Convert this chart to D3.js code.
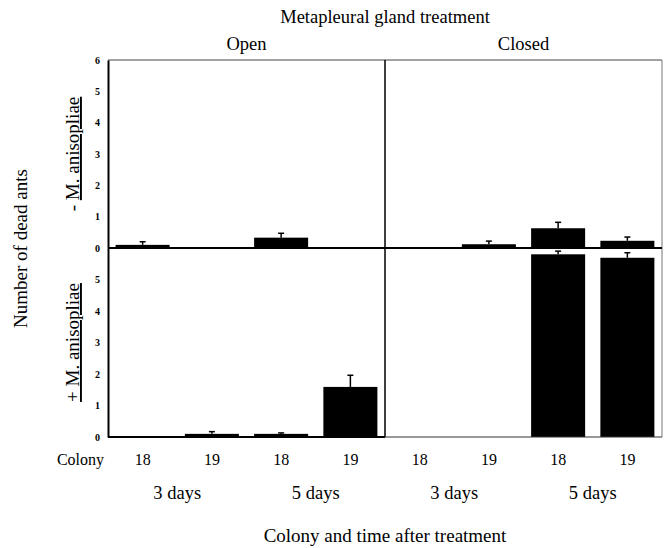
<!DOCTYPE html>
<html>
<head>
<meta charset="utf-8">
<script src="https://cdn.jsdelivr.net/npm/d3@7"></script>
<style>
  html, body { margin: 0; padding: 0; background: #fff; }
  svg { display: block; font-family: "Liberation Serif", "Times New Roman", serif; }
  svg text { font-family: "Liberation Serif", "Times New Roman", serif !important; fill: #000; }
</style>
</head>
<body>
<svg id="chart" width="664" height="548"></svg>
<script>
// ---- data ----
const colonies = ["18", "19", "18", "19"];
const dayLabels = ["3 days", "5 days"];
const treatments = ["Open", "Closed"];
const fungusRows = ["-", "+"];
const yTicksTop = [0, 1, 2, 3, 4, 5, 6];
const yTicksBottom = [0, 1, 2, 3, 4, 5];

// means (slots: colony 18 3d, colony 19 3d, colony 18 5d, colony 19 5d)
const openMinus = [0.10, 0, 0.33, 0];
const openMinusErr = [0.10, 0, 0.14, 0];
const closedMinus = [0, 0.12, 0.63, 0.23];
const closedMinusErr = [0, 0.10, 0.19, 0.12];
const openPlus = [0, 0.10, 0.10, 1.59];
const openPlusErr = [0, 0.07, 0.03, 0.37];
const closedPlus = [0, 0, 5.80, 5.69];
const closedPlusErr = [0, 0, 0.10, 0.16];

const panels = [
  { row: 0, col: 0, vals: openMinus, errs: openMinusErr },
  { row: 0, col: 1, vals: closedMinus, errs: closedMinusErr },
  { row: 1, col: 0, vals: openPlus, errs: openPlusErr },
  { row: 1, col: 1, vals: closedPlus, errs: closedPlusErr }
];

// ---- layout ----
const FONT = '"Liberation Serif", "Times New Roman", serif';
const svg = d3.select("#chart");
const xLeft = 108, xMid = 385, xRight = 662;
const yTop = 60, yMidLine = 248, yBottom = 437;

const colRanges = [[xLeft, xMid], [xMid, xRight]];
const rowRanges = [[yMidLine, yTop], [yBottom, yMidLine]];

const xScales = colRanges.map(r => d3.scaleBand()
  .domain(d3.range(colonies.length))
  .range(r).paddingInner(0.22).paddingOuter(0.11));
const yScales = rowRanges.map(r => d3.scaleLinear().domain([0, 6]).range(r));

// bars and error bars
panels.forEach(p => {
  const x = xScales[p.col], y = yScales[p.row];
  const g = svg.append("g");
  const idx = d3.range(p.vals.length).filter(i => p.vals[i] > 0);
  g.selectAll("rect").data(idx).join("rect")
    .attr("x", i => x(i))
    .attr("width", x.bandwidth())
    .attr("y", i => y(p.vals[i]))
    .attr("height", i => y(0) - y(p.vals[i]))
    .attr("fill", "#000");
  const eidx = idx.filter(i => p.errs[i] > 0);
  g.selectAll("line.err").data(eidx).join("line")
    .attr("class", "err")
    .attr("x1", i => x(i) + x.bandwidth() / 2)
    .attr("x2", i => x(i) + x.bandwidth() / 2)
    .attr("y1", i => y(p.vals[i]))
    .attr("y2", i => y(p.vals[i] + p.errs[i]))
    .attr("stroke", "#000").attr("stroke-width", 1.5);
  g.selectAll("line.cap").data(eidx).join("line")
    .attr("class", "cap")
    .attr("x1", i => x(i) + x.bandwidth() / 2 - 3)
    .attr("x2", i => x(i) + x.bandwidth() / 2 + 3)
    .attr("y1", i => y(p.vals[i] + p.errs[i]))
    .attr("y2", i => y(p.vals[i] + p.errs[i]))
    .attr("stroke", "#000").attr("stroke-width", 1.5);
});

// frame lines
const frame = svg.append("g").attr("fill", "none");
frame.append("line").attr("x1", xLeft).attr("x2", xRight).attr("y1", yTop).attr("y2", yTop)
  .attr("stroke", "#444").attr("stroke-width", 1);
frame.append("line").attr("x1", xRight).attr("x2", xRight).attr("y1", yTop).attr("y2", yBottom)
  .attr("stroke", "#777").attr("stroke-width", 1);
frame.append("line").attr("x1", xMid).attr("x2", xMid).attr("y1", yTop).attr("y2", yBottom)
  .attr("stroke", "#000").attr("stroke-width", 1.5);
frame.append("line").attr("x1", xLeft).attr("x2", xRight).attr("y1", yMidLine).attr("y2", yMidLine)
  .attr("stroke", "#000").attr("stroke-width", 2);
frame.append("line").attr("x1", xLeft).attr("x2", xMid).attr("y1", yBottom).attr("y2", yBottom)
  .attr("stroke", "#000").attr("stroke-width", 2);
frame.append("line").attr("x1", xMid).attr("x2", xRight).attr("y1", yBottom).attr("y2", yBottom)
  .attr("stroke", "#333").attr("stroke-width", 1.2);

// y axes
[yTicksTop, yTicksBottom].forEach((ticks, r) => {
  const ax = svg.append("g").attr("transform", `translate(${xLeft},0)`)
    .call(d3.axisLeft(yScales[r]).tickValues(ticks).tickSize(0).tickPadding(8).tickFormat(d3.format("d")));
  ax.attr("font-family", FONT).attr("font-size", 10);
  ax.select(".domain").attr("stroke", "#000").attr("stroke-width", 2);
  ax.selectAll("text").style("font-family", FONT).style("font-size", "10px").style("font-weight", "bold");
});

// x labels
const colonyRow = svg.append("g").style("font-family", FONT);
colonyRow.append("text").attr("x", 104).attr("y", 465).attr("text-anchor", "end")
  .style("font-size", "16px").text("Colony");
xScales.forEach(x => {
  colonyRow.selectAll(null).data(colonies).join("text")
    .attr("x", (d, i) => x(i) + x.bandwidth() / 2)
    .attr("y", 465).attr("text-anchor", "middle")
    .style("font-size", "16px").text(d => d);
  dayLabels.forEach((lab, k) => {
    const cx = (x(2 * k) + x(2 * k + 1) + x.bandwidth()) / 2;
    colonyRow.append("text").attr("x", cx).attr("y", 499).attr("text-anchor", "middle")
      .style("font-size", "18.5px").text(lab);
  });
});

// titles
svg.append("text").attr("x", (xLeft + xRight) / 2).attr("y", 23).attr("text-anchor", "middle")
  .style("font-size", "18.5px").text("Metapleural gland treatment");
treatments.forEach((t, c) => {
  svg.append("text").attr("x", (colRanges[c][0] + colRanges[c][1]) / 2).attr("y", 50)
    .attr("text-anchor", "middle").style("font-size", "18.5px").text(t);
});
svg.append("text").attr("x", (xLeft + xRight) / 2).attr("y", 542).attr("text-anchor", "middle")
  .style("font-size", "19px").text("Colony and time after treatment");

// y titles
svg.append("text").attr("transform", `translate(27,${(yTop + yBottom) / 2}) rotate(-90)`)
  .attr("text-anchor", "middle").style("font-size", "19px").text("Number of dead ants");

fungusRows.forEach((sign, r) => {
  const cy = (rowRanges[r][0] + rowRanges[r][1]) / 2;
  const t = svg.append("text").attr("transform", `translate(79,${cy}) rotate(-90)`)
    .attr("text-anchor", "middle").style("font-size", "19px");
  if (sign === "-") {
    t.append("tspan").text("- ");
    t.append("tspan").attr("text-decoration", "underline").text("M. anisopliae");
  } else {
    t.append("tspan").attr("text-decoration", "underline").text("+ M. anisopliae");
  }
});
</script>
</body>
</html>
